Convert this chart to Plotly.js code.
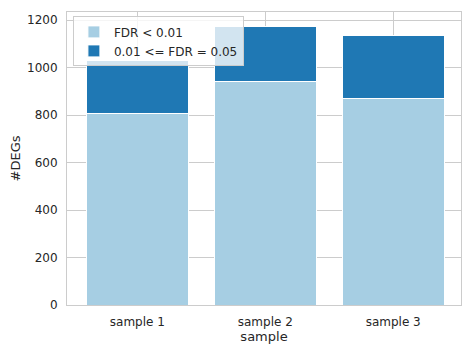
<!DOCTYPE html>
<html>
<head>
<meta charset="utf-8">
<script src="https://cdn.plot.ly/plotly-3.0.1.min.js"></script>
<style>html,body{margin:0;padding:0;background:#fff;}#chart{width:474px;height:354px;}</style>
</head>
<body>
<div id="chart"></div>
<script>
const samples = ["sample 1", "sample 2", "sample 3"];
const fdrStrict = [808, 943, 870];
const fdrLoose = [222, 228, 263];
const seriesNames = ["FDR < 0.01", "0.01 <= FDR = 0.05"];
const yTicks = [0, 200, 400, 600, 800, 1000, 1200];

const traces = [
  {type: "bar", x: samples, y: fdrStrict, name: seriesNames[0], width: 0.8,
   marker: {color: "#a6cee3", line: {color: "#ffffff", width: 1}}},
  {type: "bar", x: samples, y: fdrLoose, name: seriesNames[1], width: 0.8,
   marker: {color: "#1f78b4", line: {color: "#ffffff", width: 1}}}
];
const font = {family: "DejaVu Sans, sans-serif", size: 12, color: "#262626"};
const layout = {
  width: 474, height: 354,
  margin: {l: 67, r: 13, t: 12, b: 49},
  barmode: "stack",
  bargap: 0.2,
  paper_bgcolor: "#ffffff", plot_bgcolor: "#ffffff",
  font: font,
  showlegend: true,
  legend: {x: 0.015, y: 0.985, xanchor: "left", yanchor: "top",
    bgcolor: "rgba(255,255,255,0.8)", bordercolor: "#cccccc", borderwidth: 1,
    font: {family: "DejaVu Sans, sans-serif", size: 12, color: "#262626"},
    traceorder: "normal", tracegroupgap: 0, itemwidth: 30},
  xaxis: {type: "category", range: [-0.55, 2.53], showgrid: true, gridcolor: "#cccccc", gridwidth: 1,
    showline: true, linecolor: "#cccccc", linewidth: 1, mirror: true, ticks: "",
    ticklabelstandoff: 6, automargin: false,
    title: {text: "sample", font: {size: 13, color: "#262626"}, standoff: 3},
    tickfont: font, zeroline: false},
  yaxis: {range: [0, 1234], tickvals: yTicks, ticktext: yTicks.map(String), showgrid: true, gridcolor: "#cccccc", gridwidth: 1,
    showline: true, linecolor: "#cccccc", linewidth: 1, mirror: true, ticks: "",
    ticklabelstandoff: 6, automargin: false,
    title: {text: "#DEGs", font: {size: 13, color: "#262626"}, standoff: 3},
    tickfont: font, zeroline: false}
};
Plotly.newPlot("chart", traces, layout, {displayModeBar: false, staticPlot: true});
</script>
</body>
</html>
